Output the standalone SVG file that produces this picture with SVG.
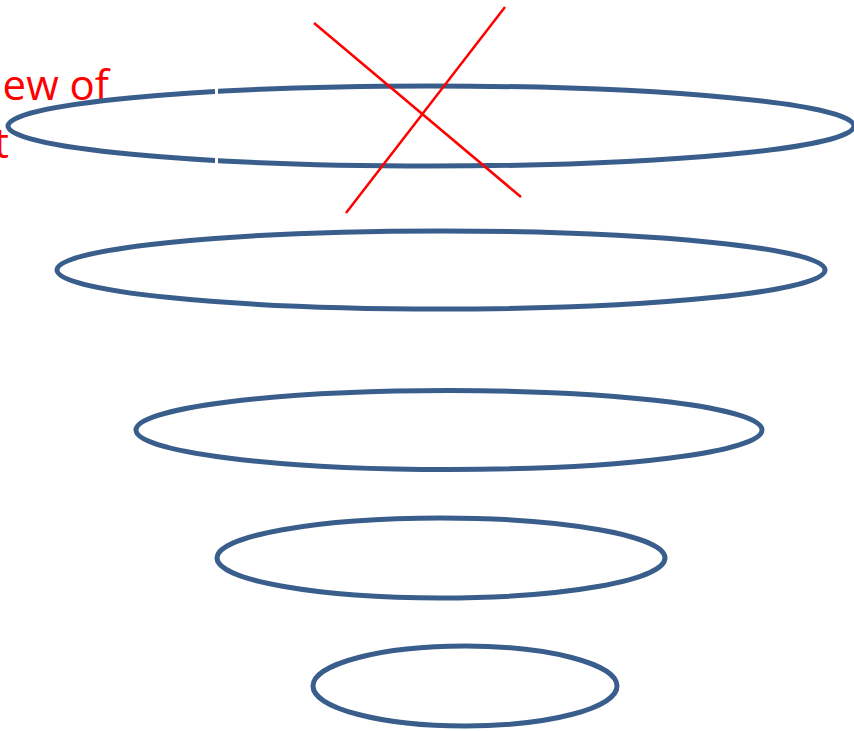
<svg xmlns="http://www.w3.org/2000/svg" width="854" height="731" viewBox="0 0 854 731">
<style>
.ring{fill:none;stroke:#3a5e8c;stroke-width:5}
.cross{stroke:#ff0000;stroke-width:2.5}
.lbl{font-family:"Open Sans","Liberation Sans",sans-serif;font-size:42px;fill:#ff0000}
</style>
<rect width="854" height="731" fill="#ffffff"/>
<g id="label">
<text class="lbl" x="109" y="100" text-anchor="end">ew of</text>
<text class="lbl" x="9" y="158" text-anchor="end">t</text>
</g>
<g id="ring1">
<ellipse class="ring" cx="431" cy="126" rx="423" ry="40"/>
<rect x="215" y="84" width="3" height="86" fill="#ffffff"/>
</g>
<g id="ring2"><ellipse class="ring" cx="441" cy="270" rx="384" ry="39"/></g>
<g id="ring3"><ellipse class="ring" cx="449" cy="430" rx="313" ry="39.5"/></g>
<g id="ring4"><ellipse class="ring" cx="441" cy="558" rx="224" ry="40"/></g>
<g id="ring5"><ellipse class="ring" cx="465" cy="686" rx="152" ry="40"/></g>
<g id="connectors">
<line class="cross" x1="314" y1="23" x2="521" y2="197"/>
<line class="cross" x1="505" y1="7" x2="346" y2="213"/>
</g>
</svg>
